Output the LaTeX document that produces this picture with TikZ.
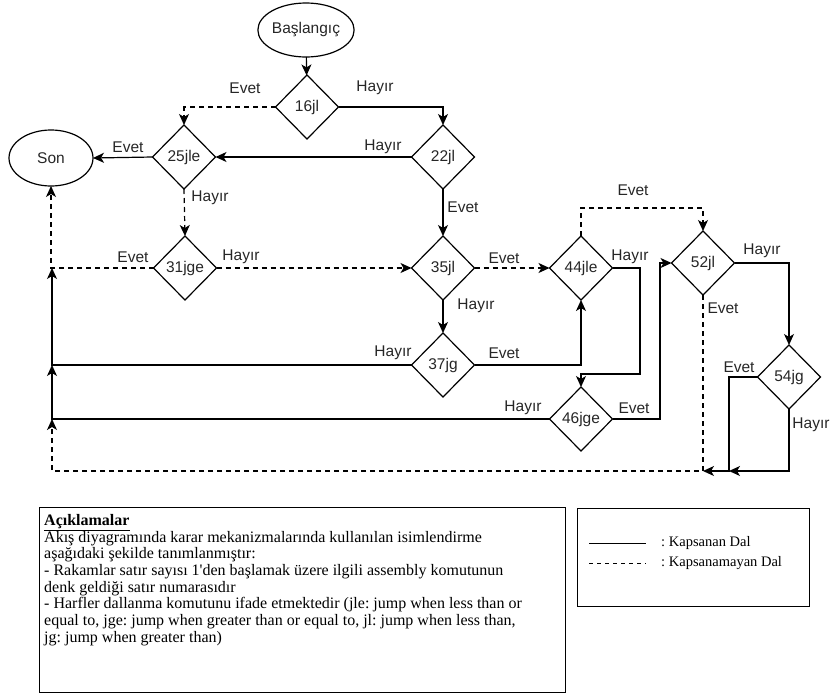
\documentclass[tikz,border=0pt]{standalone}
\usepackage{fontspec}
\setmainfont{Liberation Serif}
\newfontfamily\arialf{Liberation Sans}
\usetikzlibrary{shapes.geometric,arrows.meta}
\begin{document}
\frenchspacing
\begin{tikzpicture}[x=1pt,y=-1pt,
  every node/.style={font=\arialf\fontsize{15.5}{18}\selectfont, text=black!85},
  dec/.style={shape=diamond, draw, line width=1.2pt, minimum width=63pt, minimum height=64pt, inner sep=0pt, outer sep=0pt},
  term/.style={shape=ellipse, draw, line width=1.2pt, inner sep=0pt, outer sep=0pt},
  conn/.style={line width=1.2pt, -{Stealth[length=11pt,width=10pt,inset=3pt]}},
  dsh/.style={dash pattern=on 5pt off 4pt},
  lbl/.style={inner sep=0pt},
  note/.style={font=\fontsize{16}{16.7}\selectfont, text=black, inner sep=0pt},
  legtxt/.style={font=\fontsize{14.5}{17}\selectfont, text=black, inner sep=0pt}
]
\useasboundingbox (0,0) rectangle (832,694);

% terminals
\node[term, minimum width=84pt, minimum height=54pt] (start) at (306,30) {Başlangıç};
\node[term, minimum width=84pt, minimum height=56pt] (son) at (51,158) {Son};

% decisions
\node[dec] (d16) at (307,107) {16jl};
\node[dec] (d25) at (184,157) {25jle};
\node[dec] (d22) at (443,157) {22jl};
\node[dec] (d31) at (185,268) {31jge};
\node[dec] (d35) at (443,268) {35jl};
\node[dec] (d37) at (443,365) {37jg};
\node[dec] (d44) at (581,268) {44jle};
\node[dec] (d46) at (581,419) {46jge};
\node[dec] (d52) at (703,263) {52jl};
\node[dec] (d54) at (789,377) {54jg};

% junction coordinates
\coordinate (j31) at (52,268);
\coordinate (j37) at (52,365);
\coordinate (j46) at (52,419);
\coordinate (jb) at (52,471);
\coordinate (b52) at (703,471);
\coordinate (k44) at (581,208);
\coordinate (h44a) at (640,268);
\coordinate (h44b) at (640,374);
\coordinate (h44c) at (581,374);
\coordinate (e46a) at (660,419);
\coordinate (e46b) at (660,263);
\coordinate (e54a) at (729,377);
\coordinate (e54b) at (729,471);
\coordinate (h54) at (789,471);

% connectors
\draw[conn] (start) -- (d16);
\draw[conn,dsh] (d16.west) -| (d25.north);
\draw[conn] (d16.east) -| (d22.north);
\draw[conn] (d25.west) -- (son.east);
\draw[conn] (d22.west) -- (d25.east);
\draw[conn,dsh] (d25.south) -- (d31.north);
\draw[conn] (d22.south) -- (d35.north);
\draw[conn,dsh] (d31.west) -| (son.south);
\draw[conn,dsh] (d31.east) -- (d35.west);
\draw[conn,dsh] (d35.east) -- (d44.west);
\draw[conn] (d35.south) -- (d37.north);
\draw[conn] (d37.east) -| (d44.south);
\draw[conn] (d37.west) -- (j37) -- (j31);
\draw[conn] (d46.west) -- (j46) -- (j37);
\draw[conn,dsh] (d52.south) -- (b52) -- (jb) -- (j46);
\draw[conn,dsh] (d44.north) -- (k44) -| (d52.north);
\draw[conn] (d44.east) -- (h44a) -- (h44b) -- (h44c) -- (d46.north);
\draw[conn] (d46.east) -- (e46a) -- (e46b) -- (d52.west);
\draw[conn] (d52.east) -| (d54.north);
\draw[conn] (d54.west) -- (e54a) -- (e54b) -- (b52);
\draw[conn] (d54.south) -- (h54) -- (e54b);

% labels
\node[lbl] (l1) at (245,88) {Evet};
\node[lbl] (l2) at (375,88) {Hayır};
\node[lbl] (l3) at (128,147) {Evet};
\node[lbl] (l4) at (383,147) {Hayır};
\node[lbl] (l5) at (210,198) {Hayır};
\node[lbl] (l6) at (463,207) {Evet};
\node[lbl] (l7) at (633,190) {Evet};
\node[lbl] (l8) at (133,257) {Evet};
\node[lbl] (l9) at (241,257) {Hayır};
\node[lbl] (l10) at (393,353) {Hayır};
\node[lbl] (l11) at (504,258) {Evet};
\node[lbl] (l12) at (630,257) {Hayır};
\node[lbl] (l13) at (476,306) {Hayır};
\node[lbl] (l14) at (504,353) {Evet};
\node[lbl] (l15) at (523,408) {Hayır};
\node[lbl] (l16) at (634,408) {Evet};
\node[lbl] (l17) at (762,251) {Hayır};
\node[lbl] (l18) at (723,308) {Evet};
\node[lbl] (l19) at (739,367) {Evet};
\node[lbl] (l20) at (811,425) {Hayır};

% explanation box
\draw[line width=1pt] (39,507) rectangle (565,692);
\node[note, anchor=north west, align=left] (expl) at (44,514)
{\underline{\textbf{Açıklamalar}}\\
Akış diyagramında karar mekanizmalarında kullanılan isimlendirme\\
aşağıdaki şekilde tanımlanmıştır:\\
- Rakamlar satır sayısı 1\textquotesingle den başlamak üzere ilgili assembly komutunun\\
denk geldiği satır numarasıdır\\
- Harfler dallanma komutunu ifade etmektedir (jle: jump when less than or\\
equal to, jge: jump when greater than or equal to, jl: jump when less than,\\
jg: jump when greater than)};

% legend box
\draw[line width=1pt] (577,508) rectangle (809,606);
\coordinate (ls1) at (589,543);
\coordinate (le1) at (646,543);
\coordinate (ls2) at (589,563);
\coordinate (le2) at (646,563);
\draw[line width=0.9pt] (ls1) -- (le1);
\draw[line width=0.9pt, dash pattern=on 4pt off 4pt] (ls2) -- (le2);
\node[legtxt, anchor=west] (lg1) at (661,543) {: Kapsanan Dal};
\node[legtxt, anchor=west] (lg2) at (661,563) {: Kapsanamayan Dal};
\end{tikzpicture}
\end{document}
